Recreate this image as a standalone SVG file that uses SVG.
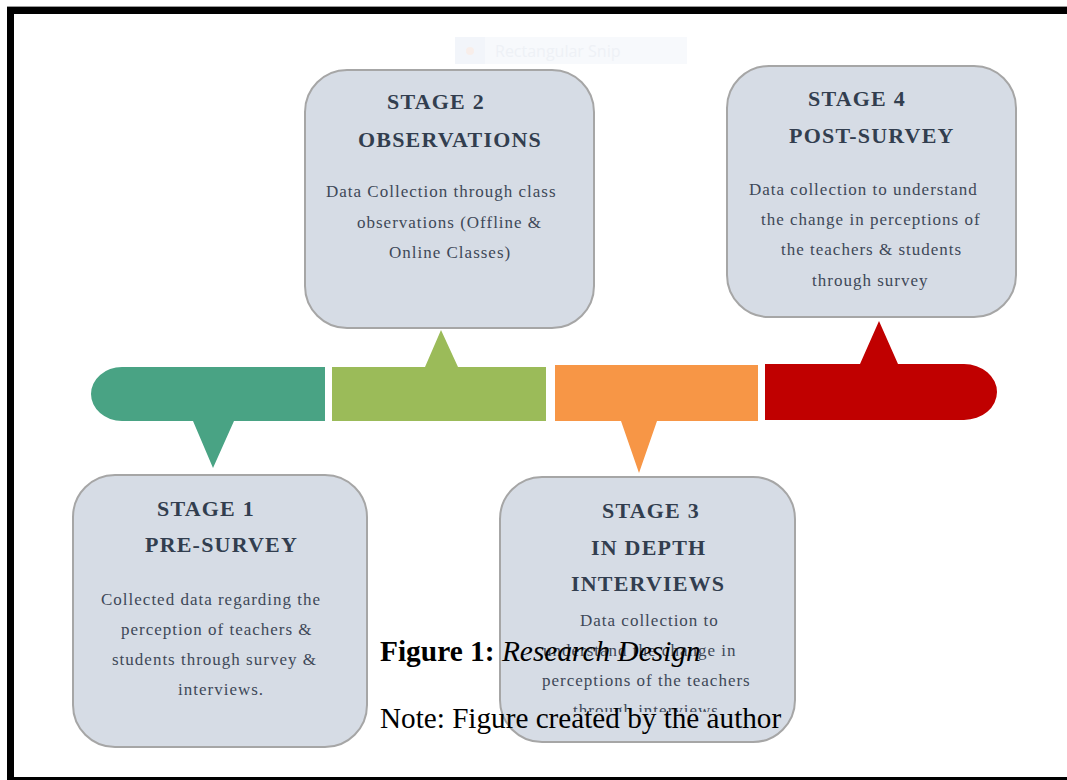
<svg xmlns="http://www.w3.org/2000/svg" width="1067" height="780" viewBox="0 0 1067 780">
<style>
.box{fill:#D6DCE5;stroke:#A6A6A6;stroke-width:2}
.ttl{font-family:"Liberation Serif","Times New Roman",serif;font-weight:bold;font-size:22px;letter-spacing:1.2px;fill:#323E4F}
.bd{font-family:"Liberation Serif","Times New Roman",serif;font-size:17px;letter-spacing:1px;fill:#3E4858}
.cap{font-family:"Liberation Serif","Times New Roman",serif;fill:#000}
</style>
<defs>
<clipPath id="clip3"><rect x="500" y="470" width="300" height="242"/></clipPath>
</defs>
<rect x="0" y="0" width="1067" height="780" fill="#fff"/>
<!-- frame -->
<rect x="7" y="6" width="1060" height="1" fill="#9a9a9a"/>
<rect x="7" y="7" width="1060" height="7" fill="#000"/>
<rect x="7" y="7" width="7" height="773" fill="#000"/>
<rect x="7" y="777" width="1060" height="3" fill="#000"/>
<!-- faint snip artifact -->
<g id="snip-artifact">
<rect x="455" y="37" width="232" height="27" fill="#F7F9FC"/>
<rect x="455" y="37" width="30" height="27" fill="#F2F5FA"/>
<circle cx="470" cy="51" r="4" fill="#F8EEEA"/>
<text x="495" y="57" font-family="'Open Sans','Liberation Sans',sans-serif" font-size="16" fill="#EEF1F6">Rectangular Snip</text>
</g>
<!-- timeline -->
<g id="connectors">
<path id="seg1" d="M122,367 H325 V421 H234 L213,468 L193,421 H122 A31 27 0 0 1 122,367 Z" fill="#49A384"/>
<path id="seg2" d="M332,367 H425 L441,330 L458,367 H546 V421 H332 Z" fill="#9BBB59"/>
<path id="seg3" d="M555,365 H758 V421 H657 L639,473 L621,421 H555 Z" fill="#F79646"/>
<path id="seg4" d="M765,364 H860 L879,321 L898,364 H964 A33 28 0 0 1 964,420 H765 Z" fill="#C00000"/>
</g>
<!-- Stage 2 -->
<g id="stage2">
<rect class="box" x="305" y="70" width="289" height="258" rx="42" ry="42"/>
<text class="ttl" x="387" y="109">STAGE 2</text>
<text class="ttl" x="358" y="147">OBSERVATIONS</text>
<text class="bd" x="326" y="197">Data Collection through class</text>
<text class="bd" x="357" y="228">observations (Offline &amp;</text>
<text class="bd" x="389" y="258">Online Classes)</text>
</g>
<!-- Stage 4 -->
<g id="stage4">
<rect class="box" x="727" y="66" width="289" height="251" rx="42" ry="42"/>
<text class="ttl" x="808" y="106">STAGE 4</text>
<text class="ttl" x="789" y="143">POST-SURVEY</text>
<text class="bd" x="749" y="195">Data collection to understand</text>
<text class="bd" x="761" y="225">the change in perceptions of</text>
<text class="bd" x="781" y="255">the teachers &amp; students</text>
<text class="bd" x="812" y="286">through survey</text>
</g>
<!-- Stage 1 -->
<g id="stage1">
<rect class="box" x="73" y="475" width="294" height="272" rx="42" ry="42"/>
<text class="ttl" x="157" y="516">STAGE 1</text>
<text class="ttl" x="145" y="552">PRE-SURVEY</text>
<text class="bd" x="101" y="605">Collected data regarding the</text>
<text class="bd" x="121" y="635">perception of teachers &amp;</text>
<text class="bd" x="112" y="665">students through survey &amp;</text>
<text class="bd" x="178" y="695">interviews.</text>
</g>
<!-- Stage 3 -->
<g id="stage3">
<rect class="box" x="500" y="477" width="295" height="265" rx="42" ry="42"/>
<text class="ttl" x="602" y="518">STAGE 3</text>
<text class="ttl" x="591" y="555">IN DEPTH</text>
<text class="ttl" x="571" y="591">INTERVIEWS</text>
<text class="bd" x="580" y="626">Data collection to</text>
<text class="bd" x="543" y="656">understand the change in</text>
<text class="bd" x="542" y="686">perceptions of the teachers</text>
<text class="bd" x="573" y="716" clip-path="url(#clip3)">through interviews</text>
</g>
<!-- caption -->
<g id="caption">
<text class="cap" x="380" y="661" font-size="29.4"><tspan font-weight="bold">Figure 1: </tspan><tspan font-style="italic">Research Design</tspan></text>
<text class="cap" x="380" y="728" font-size="29.2">Note: Figure created by the author</text>
</g>
</svg>
